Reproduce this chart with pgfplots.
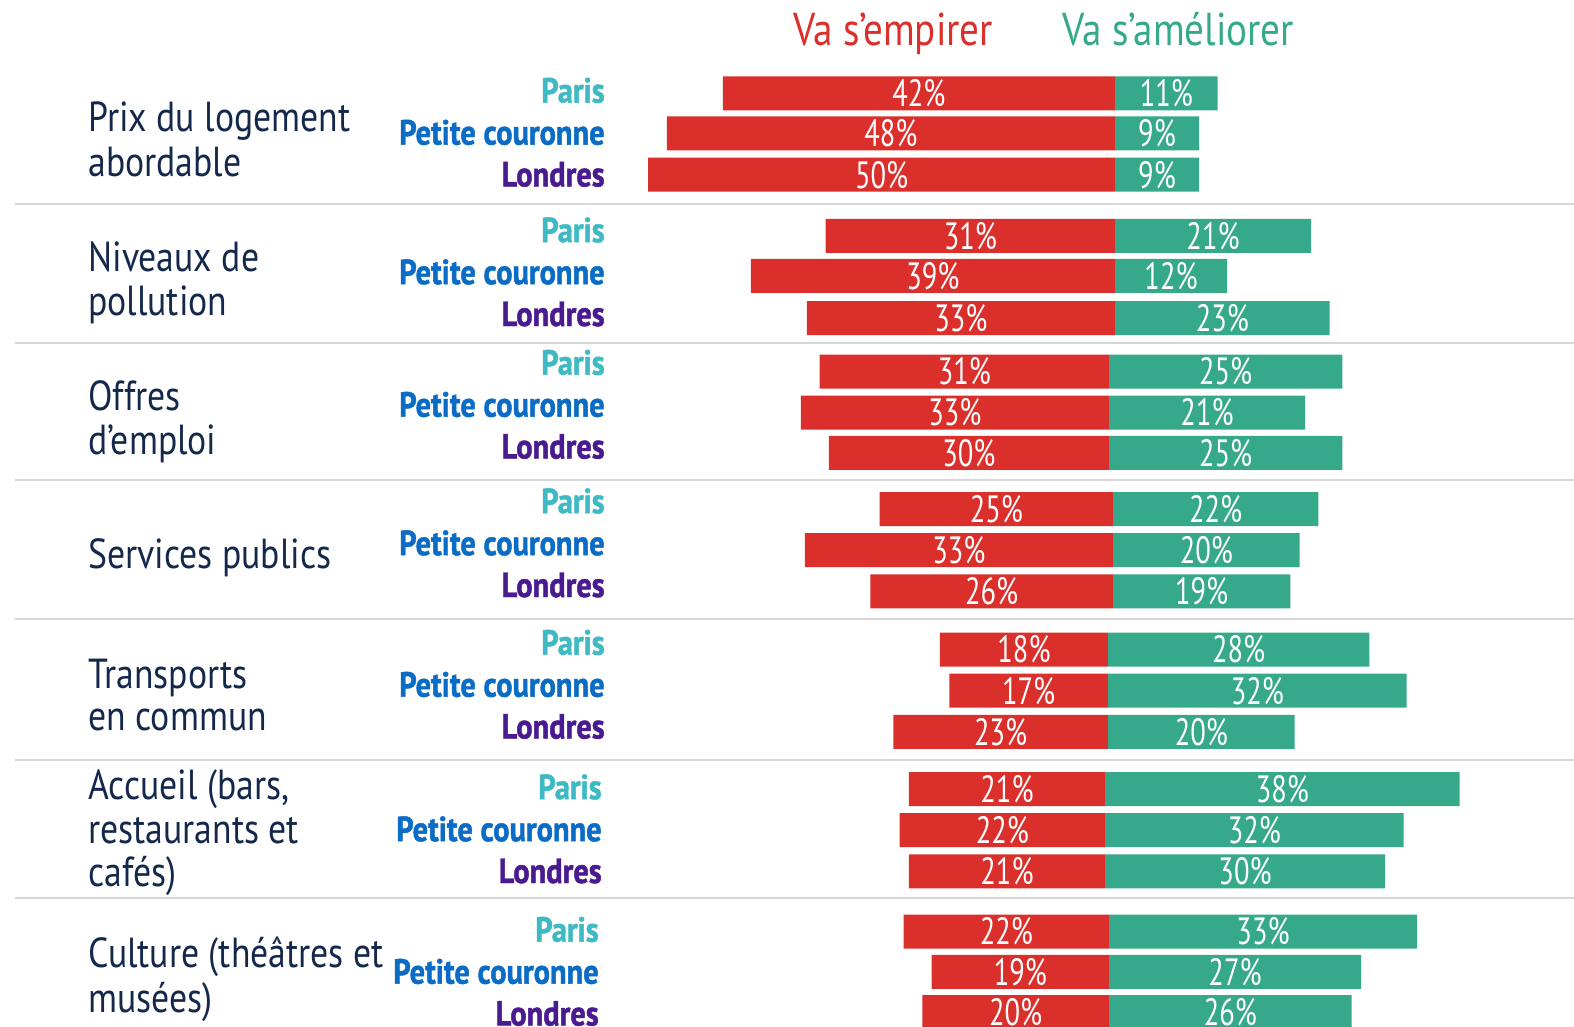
\documentclass[border=0pt]{standalone}
\usepackage{fontspec}
\setmainfont{PT Sans}[FakeStretch=0.85]
\newfontfamily\numfont{PT Sans}[FakeStretch=0.75]
\newfontfamily\cityfont{PT Sans}[UprightFont=* Bold, FakeStretch=0.87, FakeBold=1.3]
\usepackage{pgfplots}
\usepackage{pgfplotstable}
\pgfplotsset{compat=1.18}

\definecolor{rouge}{HTML}{DB2F2B}
\definecolor{vert}{HTML}{35A98A}
\definecolor{cparis}{HTML}{3FBAC4}
\definecolor{cpc}{HTML}{0A6CC4}
\definecolor{clon}{HTML}{4A1A91}
\definecolor{navy}{HTML}{14284B}
\definecolor{sep}{HTML}{D6D6D6}

% y = row position (px from top), neg = "Va s'empirer", pos = "Va s'ameliorer"
\pgfplotstableread{
y      neg pos
93.4   42  11
133.5  48  9
174.7  50  9
}\gA
\pgfplotstableread{
y      neg pos
236    31  21
276    39  12
318.2  33  23
}\gB
\pgfplotstableread{
y      neg pos
371.5  31  25
412.6  33  21
452.8  30  25
}\gC
\pgfplotstableread{
y      neg pos
509    25  22
550.1  33  20
591.3  26  19
}\gD
\pgfplotstableread{
y      neg pos
649.5  18  28
690.7  17  32
731.8  23  20
}\gE
\pgfplotstableread{
y      neg pos
789    21  38
830.2  22  32
871.4  21  30
}\gF
\pgfplotstableread{
y      neg pos
931.6  22  33
971.8  19  27
1012   20  26
}\gG

\pgfplotsset{
  rbar/.style={xbar, bar shift=0pt, bar width=34, fill=rouge, draw=none},
  gbar/.style={xbar, bar shift=0pt, bar width=34, fill=vert, draw=none},
  lbl/.style={draw=none, mark=none, point meta=explicit symbolic,
    nodes near coords={\pgfplotspointmeta\%},
    nodes near coords style={anchor=center, text=white, inner sep=0pt,
      font=\numfont\fontsize{19}{19}\selectfont}},
}
\newcommand{\grp}[2]{%
  \addplot[rbar, xshift=#2] table[x expr=-\thisrow{neg}, y=y] {#1};
  \addplot[gbar, xshift=#2] table[x=pos, y=y] {#1};
  \addplot[lbl, xshift=#2] table[x expr=-\thisrow{neg}/2, y=y, meta=neg] {#1};
  \addplot[lbl, xshift=#2] table[x expr=\thisrow{pos}/2, y=y, meta=pos] {#1};
}
\newcommand{\glab}[2]{\node[anchor=base west, text=navy, inner sep=0pt,
  font=\fontsize{21}{21}\selectfont] at (axis cs:-110.01,#1) {#2};}
\newcommand{\cityfnt}{\cityfont\fontsize{17.5}{17.5}\selectfont}
\newcommand{\city}[2]{%
  \node[anchor=east, text=cparis, inner sep=0pt, font=\cityfnt] at (axis cs:#1,#2) {Paris};
  \node[anchor=east, text=cpc, inner sep=0pt, font=\cityfnt] at (axis cs:#1,#2+42) {Petite couronne};
  \node[anchor=east, text=clon, inner sep=0pt, font=\cityfnt] at (axis cs:#1,#2+84) {Londres};
}

\begin{document}
\begin{tikzpicture}
\path[use as bounding box] (0,0) rectangle (787pt,513.5pt);
\begin{axis}[
  at={(0,0)}, anchor=south west,
  scale only axis, width=787pt, height=513.5pt,
  xmin=-119.44, xmax=49.17, ymin=0, ymax=1027, y dir=reverse,
  hide axis, clip=false
]
% separators (x from px 15 to the right edge)
\draw[sep, line width=1pt] (axis cs:-117.84,204) -- (axis cs:49.17,204);
\draw[sep, line width=1pt] (axis cs:-117.84,343) -- (axis cs:49.17,343);
\draw[sep, line width=1pt] (axis cs:-117.84,480) -- (axis cs:49.17,480);
\draw[sep, line width=1pt] (axis cs:-117.84,619) -- (axis cs:49.17,619);
\draw[sep, line width=1pt] (axis cs:-117.84,760) -- (axis cs:49.17,760);
\draw[sep, line width=1pt] (axis cs:-117.84,898) -- (axis cs:49.17,898);

\grp{\gA}{0pt}
\grp{\gB}{0pt}
\grp{\gC}{-3pt}
\grp{\gD}{-1pt}
\grp{\gE}{-3.5pt}
\grp{\gF}{-5pt}
\grp{\gG}{-3pt}

% header
\node[anchor=base, text=rouge, inner sep=0pt, font=\fontsize{23}{23}\selectfont] at (axis cs:-23.78,46) {Va s’empirer};
\node[anchor=base, text=vert, inner sep=0pt, font=\fontsize{23}{23}\selectfont] at (axis cs:6.75,46) {Va s’améliorer};

% category labels
\glab{132}{Prix du logement}
\glab{177}{abordable}
\glab{271}{Niveaux de}
\glab{315}{pollution}
\glab{410}{Offres}
\glab{454}{d’emploi}
\glab{568}{Services publics}
\glab{688}{Transports}
\glab{730}{en commun}
\glab{799}{Accueil (bars,}
\glab{843}{restaurants et}
\glab{886}{cafés)}
\glab{967}{Culture (théâtres et}
\glab{1012}{musées)}

% city labels (right edge px 605 / 602 / 599)
\city{-54.63}{90.4}
\city{-54.63}{230}
\city{-54.63}{362.5}
\city{-54.63}{501}
\city{-54.63}{642.5}
\city{-54.95}{787}
\city{-55.27}{929.5}
\end{axis}
\end{tikzpicture}
\end{document}
